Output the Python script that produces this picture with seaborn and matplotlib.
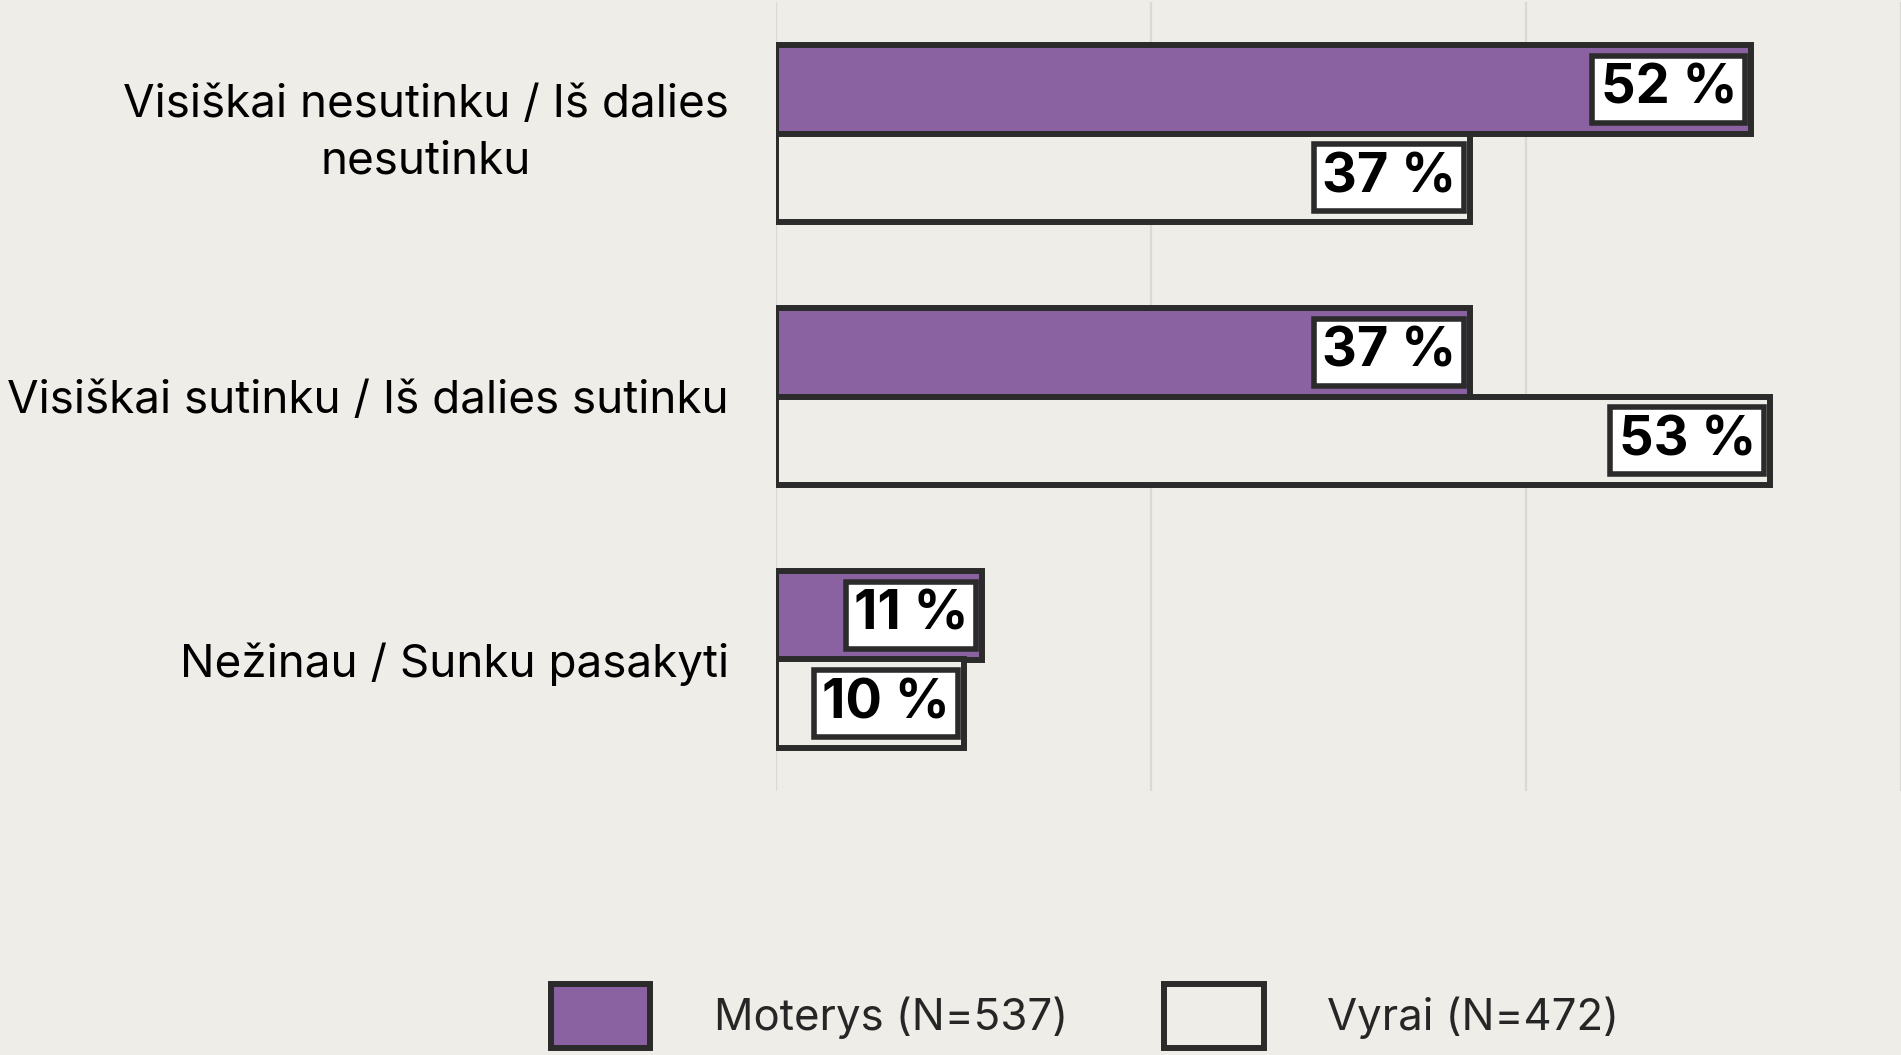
import matplotlib
matplotlib.use("Agg")
import matplotlib.pyplot as plt
import seaborn as sns
import pandas as pd

# ---- data ----
categories = [
    "Visiškai nesutinku / Iš dalies\nnesutinku",
    "Visiškai sutinku / Iš dalies sutinku",
    "Nežinau / Sunku pasakyti",
]
groups = ["Moterys (N=537)", "Vyrai (N=472)"]
women = [52, 37, 11]
men = [37, 53, 10]

BG = "#EEEDE7"
PURPLE = "#8A62A2"
EDGE = "#2B2B2B"
GRID = "#D9D9D6"

df = pd.DataFrame({
    "cat": categories * 2,
    "grp": [groups[0]] * len(women) + [groups[1]] * len(men),
    "val": women + men,
})

sns.set_theme(style="white")
plt.rcParams["font.family"] = ["Inter", "DejaVu Sans"]

W, H = 1901, 1055
fig = plt.figure(figsize=(W / 100, H / 100), dpi=100, facecolor=BG)
ax_top, ax_bot = 2, 791
ax = fig.add_axes([776 / W, 1 - ax_bot / H, 1 - 776 / W, (ax_bot - ax_top) / H])
ax.set_facecolor(BG)

sns.barplot(data=df, y="cat", x="val", hue="grp", hue_order=groups,
            palette=[PURPLE, BG], saturation=1, orient="h", width=0.674,
            edgecolor=EDGE, linewidth=4.3, ax=ax, zorder=3)

ax.set_xlim(0, 60)
ax.set_ylim(2.5, -0.5)
ax.set_xticks([0, 20, 40, 60])
ax.set_xticklabels([])
ax.xaxis.grid(True, color=GRID, linewidth=1.6, zorder=0)
ax.yaxis.grid(False)
ax.set_axisbelow(True)
for s in ax.spines.values():
    s.set_visible(False)
ax.set_xlabel("")
ax.set_ylabel("")
ax.tick_params(axis="y", length=0, pad=34, labelsize=33, labelcolor="black")
ax.tick_params(axis="x", length=0)
for t in ax.get_yticklabels():
    t.set_multialignment("center")
    t.set_linespacing(1.45)
    if "\n" in t.get_text():
        t.set_verticalalignment("center")

# value labels
for cont in ax.containers:
    for p in cont.patches:
        w = p.get_width()
        yc = p.get_y() + p.get_height() / 2
        ax.annotate(f"{w:.0f} %", xy=(w, yc), xytext=(-10, 0),
                    textcoords="offset points", ha="right", va="center",
                    fontsize=39, fontweight="bold", color="black", zorder=5,
                    bbox=dict(boxstyle="square,pad=0.15", facecolor="white",
                              edgecolor=EDGE, linewidth=4))

handles, labels = ax.get_legend_handles_labels()
if ax.get_legend() is not None:
    ax.get_legend().remove()
fig.legend(handles, labels, loc="center", bbox_to_anchor=(1085 / W, 1 - 1016 / H),
           bbox_transform=fig.transFigure, ncol=2, frameon=False,
           fontsize=31.5, handlelength=2.28, handleheight=1.88,
           handletextpad=1.45, columnspacing=2.2)

fig.savefig("out.png", dpi=100, facecolor=BG)
